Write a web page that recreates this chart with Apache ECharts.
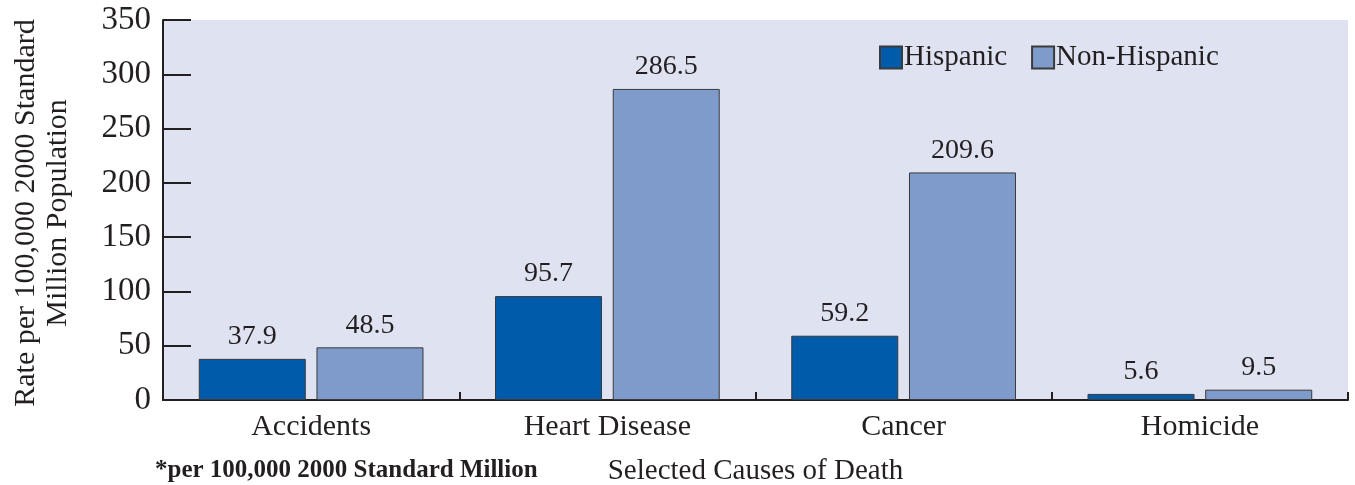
<!DOCTYPE html>
<html>
<head>
<meta charset="utf-8">
<script src="https://cdn.jsdelivr.net/npm/echarts@6/dist/echarts.min.js"></script>
<style>
  html, body { margin: 0; padding: 0; background: #fff; }
  #chart { width: 1355px; height: 485px; }
</style>
</head>
<body>
<div id="chart"></div>
<script>
// Age-adjusted death rates by cause, Hispanic vs. non-Hispanic
const causes = ['Accidents', 'Heart Disease', 'Cancer', 'Homicide'];
const hispanic = [37.9, 95.7, 59.2, 5.6];
const nonHispanic = [48.5, 286.5, 209.6, 9.5];
const seriesNames = ['Hispanic', 'Non-Hispanic'];

const ink = '#231F20';
const serif = '"Liberation Serif", "DejaVu Serif", serif';

const chart = echarts.init(document.getElementById('chart'));

const valueLabel = {
  show: true,
  position: 'top',
  distance: 8,
  color: ink,
  fontFamily: serif,
  fontSize: 28
};

chart.setOption({
  animation: false,
  textStyle: { fontFamily: serif, color: ink },
  grid: {
    left: 163, right: 7, top: 20, bottom: 85,
    outerBoundsMode: 'none',
    containLabel: false,
    show: true,
    backgroundColor: '#DFE2F1',
    borderWidth: 0
  },
  legend: {
    left: 874, top: 38,
    itemWidth: 22, itemHeight: 22,
    itemGap: 24,
    icon: 'rect',
    textStyle: { fontFamily: serif, fontSize: 29, color: ink, padding: [0, 0, 0, -3] },
    data: seriesNames
  },
  xAxis: {
    type: 'category',
    data: causes,
    name: 'Selected Causes of Death',
    nameLocation: 'middle',
    nameGap: 57,
    nameTextStyle: { fontFamily: serif, fontSize: 29, color: ink },
    axisLine: { lineStyle: { color: ink, width: 2 } },
    axisTick: { show: true, inside: true, length: 8, lineStyle: { color: ink, width: 2 } },
    axisLabel: { fontFamily: serif, fontSize: 30, color: ink, margin: 12 }
  },
  yAxis: {
    type: 'value',
    min: 0, max: 350, interval: 50,
    axisLine: { show: true, lineStyle: { color: ink, width: 2 } },
    axisTick: { show: true, inside: true, length: 28, lineStyle: { color: ink, width: 2 } },
    splitLine: { show: false },
    axisLabel: { fontFamily: serif, fontSize: 33, color: ink, margin: 12 }
  },
  graphic: [
    {
      type: 'text',
      x: 42, y: 213,
      rotation: Math.PI / 2,
      style: {
        text: 'Rate per 100,000 2000 Standard\nMillion Population',
        font: '30px ' + serif,
        fill: ink,
        align: 'center',
        verticalAlign: 'middle',
        lineHeight: 32
      }
    },
    {
      type: 'text',
      left: 155, top: 458,
      style: {
        text: '*per 100,000 2000 Standard Million',
        font: 'bold 25px ' + serif,
        fill: ink
      }
    }
  ],
  series: [
    {
      name: seriesNames[0],
      type: 'bar',
      data: hispanic,
      barWidth: 107,
      barGap: '10%',
      itemStyle: { color: '#005CAA', borderColor: '#3A3A3A', borderWidth: 1 },
      label: valueLabel
    },
    {
      name: seriesNames[1],
      type: 'bar',
      data: nonHispanic,
      barWidth: 107,
      barGap: '10%',
      itemStyle: { color: '#7F9BCB', borderColor: '#3A3A3A', borderWidth: 1 },
      label: valueLabel
    }
  ]
});
</script>
</body>
</html>
